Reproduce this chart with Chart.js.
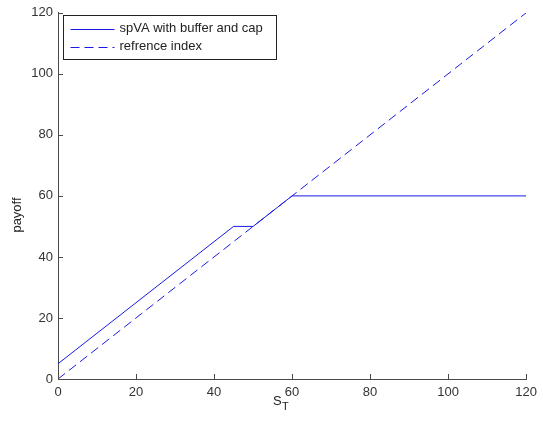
<!DOCTYPE html>
<html>
<head>
<meta charset="utf-8">
<script src="https://cdn.jsdelivr.net/npm/chart.js@4/dist/chart.umd.min.js"></script>
<style>
  body { margin: 0; background: #fff; }
  canvas { display: block; }
</style>
</head>
<body>
<canvas id="myCanvas" width="543" height="427"></canvas>
<script>
// data
const stValues = [0, 45, 50, 60, 120];
const spvaPayoff = [5, 50, 50, 60, 60];
const indexSt = [0, 120];
const indexPayoff = [0, 120];
const seriesNames = ["spVA with buffer and cap", "refrence index"];
const axisTicks = [0, 20, 40, 60, 80, 100, 120];

const lineBlue = "rgb(26,26,230)";
const axisGrey = "#4a4a4a";
const font = "Liberation Sans, Arial, sans-serif";

// matlab style: ticks inside, legend box, S_T label with subscript
const matlabBits = {
  id: "matlabBits",
  afterDraw(chart) {
    const c = chart.ctx;
    const x = chart.scales.x, y = chart.scales.y;
    const a = chart.chartArea;
    c.save();
    c.strokeStyle = axisGrey;
    c.lineWidth = 1;
    axisTicks.forEach(v => {
      let px = Math.round(x.getPixelForValue(v)) + 0.5;
      c.beginPath();
      c.moveTo(px, a.bottom);
      c.lineTo(px, a.bottom - 5);
      c.stroke();
      let py = Math.round(y.getPixelForValue(v)) + 0.5;
      c.beginPath();
      c.moveTo(a.left, py);
      c.lineTo(a.left + 5, py);
      c.stroke();
    });

    // legend box
    const bx = 63.5, by = 15.5, bw = 213, bh = 44;
    c.fillStyle = "#fff";
    c.fillRect(bx, by, bw, bh);
    c.strokeStyle = "#222";
    c.strokeRect(bx, by, bw, bh);

    // legend sample lines
    chart.data.datasets.forEach((ds, i) => {
      let ly = Math.round(by + 13 + i * 18) + 0.5;
      c.beginPath();
      c.strokeStyle = lineBlue;
      c.lineWidth = 1.2;
      c.setLineDash(ds.borderDash || []);
      c.moveTo(bx + 7, ly);
      c.lineTo(bx + 51, ly);
      c.stroke();
      c.setLineDash([]);
    });

    // legend text
    c.fillStyle = "#222";
    c.font = "13px " + font;
    c.textBaseline = "middle";
    c.textAlign = "left";
    chart.data.datasets.forEach((ds, i) => {
      c.fillText(ds.label, bx + 56, by + 13 + i * 18);
    });

    // axis titles
    c.textBaseline = "alphabetic";
    c.fillText("S", 273, 405);
    c.font = "11px " + font;
    c.fillText("T", 282, 410);

    c.font = "13px " + font;
    c.translate(21, 215);
    c.rotate(-Math.PI / 2);
    c.textAlign = "center";
    c.fillText("payoff", 0, 0);
    c.restore();
  }
};

const canvas = document.getElementById("myCanvas");
new Chart(canvas, {
  type: "line",
  data: {
    datasets: [
      {
        label: seriesNames[0],
        data: stValues.map((v, i) => ({ x: v, y: spvaPayoff[i] })),
        borderColor: lineBlue,
        borderWidth: 1,
        pointRadius: 0,
        fill: false
      },
      {
        label: seriesNames[1],
        data: indexSt.map((v, i) => ({ x: v, y: indexPayoff[i] })),
        borderColor: lineBlue,
        borderWidth: 1,
        borderDash: [9, 5],
        pointRadius: 0,
        fill: false
      }
    ]
  },
  plugins: [matlabBits],
  options: {
    responsive: false,
    animation: false,
    layout: { padding: { top: 8, right: 16, left: 0, bottom: 0 } },
    plugins: {
      legend: { display: false },
      tooltip: { enabled: false }
    },
    scales: {
      x: {
        type: "linear",
        min: 0,
        max: 120,
        afterBuildTicks: s => { s.ticks = axisTicks.map(v => ({ value: v })); },
        afterFit: s => { s.height = 48; },
        grid: { display: false, drawTicks: false },
        border: { display: true, color: axisGrey, width: 1 },
        ticks: { color: "#333", font: { family: font, size: 13 }, padding: 6, maxRotation: 0 }
      },
      y: {
        type: "linear",
        min: 0,
        max: 120,
        afterBuildTicks: s => { s.ticks = axisTicks.map(v => ({ value: v })); },
        afterFit: s => { s.width = 58; },
        grid: { display: false, drawTicks: false },
        border: { display: true, color: axisGrey, width: 1 },
        ticks: { color: "#333", font: { family: font, size: 13 }, padding: 5 }
      }
    }
  }
});
</script>
</body>
</html>
